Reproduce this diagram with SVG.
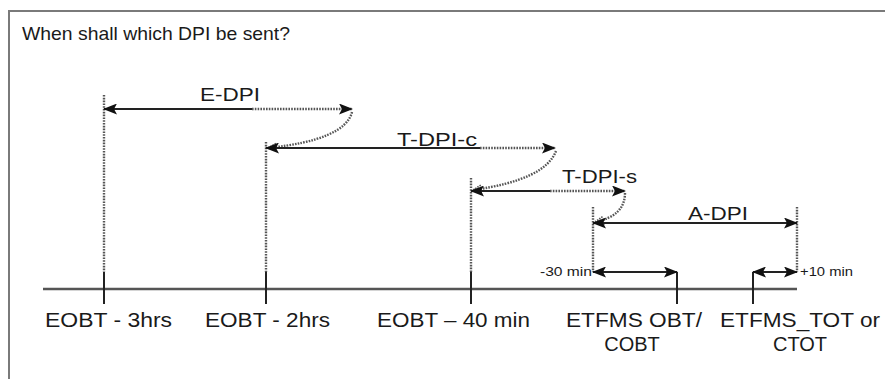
<svg xmlns="http://www.w3.org/2000/svg" width="885" height="379" viewBox="0 0 885 379">
<style>
.t{font-family:"Liberation Sans",Arial,sans-serif;fill:#1a1a1a}
.big{font-size:20px}
.mid{font-size:19px}
.sm{font-size:13px}
.solid{stroke:#222;stroke-width:2;fill:none}
.dot{stroke:#555;stroke-width:2.4;stroke-dasharray:1.6 1.2;fill:none}
.axis{stroke:#555;stroke-width:2.4;fill:none}
</style>
<defs>
<marker id="ah" markerUnits="userSpaceOnUse" markerWidth="14" markerHeight="11" refX="13" refY="5.5" orient="auto-start-reverse">
<path d="M0,0 L14,5.5 L0,11 L3,5.5 Z" fill="#111"/>
</marker>
<marker id="ad" markerUnits="userSpaceOnUse" markerWidth="10" markerHeight="10" refX="9" refY="5" orient="auto">
<path d="M0,1 L9,5 L0,9" fill="none" stroke="#555" stroke-width="1.6" stroke-dasharray="1.5 1"/>
</marker>
</defs>
<rect x="9" y="11" width="900" height="400" fill="#fff" stroke="#7a7a7a" stroke-width="2"/>
<text class="t mid" x="22" y="40" textLength="268" lengthAdjust="spacingAndGlyphs">When shall which DPI be sent?</text>

<g id="connectors">
<line class="axis" x1="43" y1="289" x2="797" y2="289"/>
<line class="solid" x1="104" y1="272" x2="104" y2="304"/>
<line class="solid" x1="266" y1="272" x2="266" y2="304"/>
<line class="solid" x1="471" y1="272" x2="471" y2="304"/>
<line class="solid" x1="677" y1="272" x2="677" y2="304"/>
<line class="solid" x1="753" y1="272" x2="753" y2="304"/>
<line class="dot" x1="104" y1="95" x2="104" y2="272"/>
<line class="dot" x1="266" y1="142" x2="266" y2="272"/>
<line class="dot" x1="471" y1="178" x2="471" y2="272"/>
<line class="dot" x1="593" y1="207" x2="593" y2="272"/>
<line class="dot" x1="797" y1="207" x2="797" y2="272"/>
<line class="solid" x1="252" y1="109" x2="104" y2="109" marker-end="url(#ah)"/>
<line class="dot" x1="252" y1="109" x2="352" y2="109" marker-end="url(#ah)"/>
<path class="dot" d="M352,112 Q345,140 268,148" marker-end="url(#ad)"/>
<line class="solid" x1="480" y1="148" x2="266" y2="148" marker-end="url(#ah)"/>
<line class="dot" x1="480" y1="148" x2="555" y2="148" marker-end="url(#ah)"/>
<path class="dot" d="M556,151 Q545,180 473,190" marker-end="url(#ad)"/>
<line class="solid" x1="550" y1="191" x2="471" y2="191" marker-end="url(#ah)"/>
<line class="dot" x1="550" y1="191" x2="625" y2="191" marker-end="url(#ah)"/>
<path class="dot" d="M625,193 Q625,216 595,222" marker-end="url(#ad)"/>
<line class="solid" x1="593" y1="223" x2="797" y2="223" marker-start="url(#ah)" marker-end="url(#ah)"/>
<line class="solid" x1="593" y1="272" x2="677" y2="272" marker-start="url(#ah)" marker-end="url(#ah)"/>
<line class="solid" x1="753" y1="272" x2="797" y2="272" marker-start="url(#ah)" marker-end="url(#ah)"/>
</g>

<g id="label-edpi"><text class="t mid" x="200" y="101" textLength="60" lengthAdjust="spacingAndGlyphs">E-DPI</text></g>
<g id="label-tdpic"><text class="t mid" x="397" y="146" textLength="80" lengthAdjust="spacingAndGlyphs">T-DPI-c</text></g>
<g id="label-tdpis"><text class="t mid" x="562" y="183" textLength="75" lengthAdjust="spacingAndGlyphs">T-DPI-s</text></g>
<g id="label-adpi"><text class="t mid" x="688" y="220" textLength="60" lengthAdjust="spacingAndGlyphs">A-DPI</text></g>
<g id="label-m30"><text class="t sm" x="540" y="276" textLength="52" lengthAdjust="spacingAndGlyphs">-30 min</text></g>
<g id="label-p10"><text class="t sm" x="800" y="276" textLength="53" lengthAdjust="spacingAndGlyphs">+10 min</text></g>

<g id="node-eobt3"><text class="t big" x="45" y="327" textLength="127" lengthAdjust="spacingAndGlyphs">EOBT - 3hrs</text></g>
<g id="node-eobt2"><text class="t big" x="205" y="327" textLength="125" lengthAdjust="spacingAndGlyphs">EOBT - 2hrs</text></g>
<g id="node-eobt40"><text class="t big" x="377" y="327" textLength="153" lengthAdjust="spacingAndGlyphs">EOBT – 40 min</text></g>
<g id="node-obt"><text class="t big" x="566" y="327" textLength="136" lengthAdjust="spacingAndGlyphs">ETFMS OBT/</text><text class="t big" x="632" y="351" text-anchor="middle">COBT</text></g>
<g id="node-tot"><text class="t big" x="720" y="327" textLength="160" lengthAdjust="spacingAndGlyphs">ETFMS_TOT or</text><text class="t big" x="800" y="351" text-anchor="middle">CTOT</text></g>
</svg>
